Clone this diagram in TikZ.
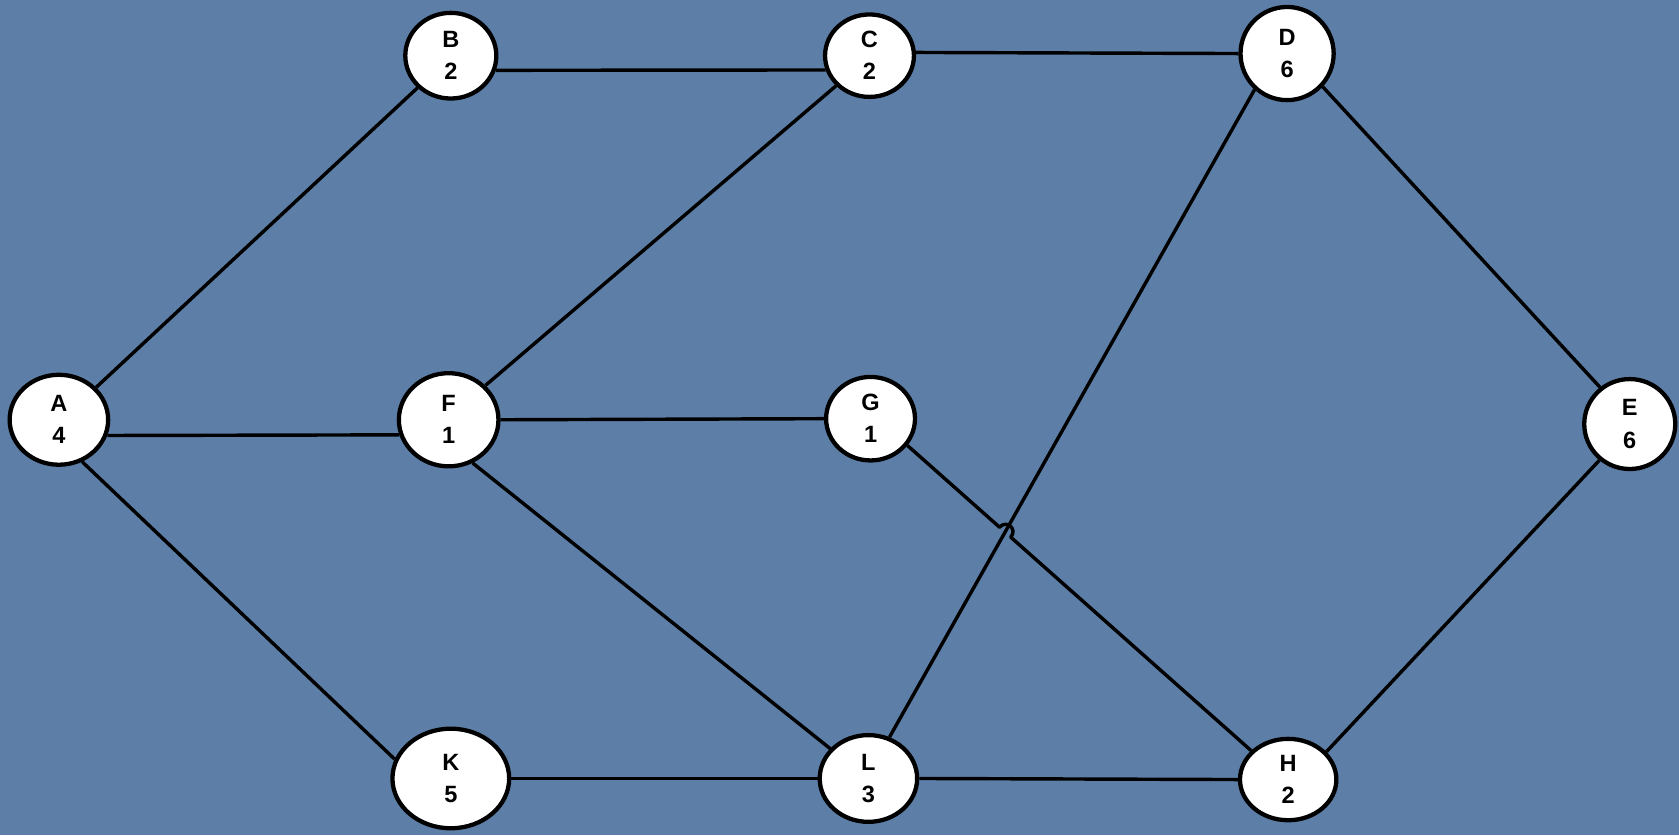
\documentclass[tikz,border=0pt]{standalone}
\usepackage{fontspec}
\setmainfont{Liberation Sans}
\usetikzlibrary{shapes.geometric,calc}
\definecolor{bgblue}{RGB}{93,127,167}
\tikzset{
  vtx/.style={ellipse, draw=black, line width=4pt, fill=white, inner sep=0pt,
    align=center, font=\fontsize{22}{30}\selectfont\bfseries},
  edge/.style={draw=black, line width=3.2pt}
}
\begin{document}
\begin{tikzpicture}[x=1pt,y=-1pt]
\fill[bgblue] (0,0) rectangle (1568,780);
\useasboundingbox (0,0) rectangle (1568,780);
\node[vtx, minimum width=92pt, minimum height=84pt] (A) at (55,392) {A\\4};
\node[vtx, minimum width=85pt, minimum height=80pt] (B) at (421,52) {B\\2};
\node[vtx, minimum width=83pt, minimum height=77pt] (C) at (812,52) {C\\2};
\node[vtx, minimum width=87pt, minimum height=87pt] (D) at (1202,50) {D\\6};
\node[vtx, minimum width=85pt, minimum height=84pt] (E) at (1522,396) {E\\6};
\node[vtx, minimum width=93pt, minimum height=87pt] (F) at (419,392) {F\\1};
\node[vtx, minimum width=83pt, minimum height=78pt] (G) at (813,391) {G\\1};
\node[vtx, minimum width=109pt, minimum height=93pt] (K) at (421,727) {K\\5};
\node[vtx, minimum width=91pt, minimum height=81pt] (L) at (811,727) {L\\3};
\node[vtx, minimum width=90pt, minimum height=76pt] (H) at (1203,728) {H\\2};
\draw[edge] (A.41) -- (B.224);
\draw[edge] (B.-18) -- (C.198);
\draw[edge] (C.4) -- (D.180);
\draw[edge] (A.-18) -- (F.197);
\draw[edge] (A.-61) -- (K.161);
\draw[edge] (F.43) -- (C.222);
\draw[edge] (F.0) -- (G.180);
\draw[edge] (F.-61) -- (L.142);
\draw[edge] (K.0) -- (L.180);
\draw[edge] (L.0) -- (H.180);
\draw[edge] (L.63) -- (D.228);
\coordinate (X) at (intersection of G.-36--H.142 and L.63--D.228);
\coordinate (X1) at ($(X)!7pt!(G.-36)$);
\coordinate (X2) at ($(X)!7pt!(H.142)$);
\draw[edge, line join=round] (G.-36) -- (X1)
  .. controls ($(X1)+(6.6,-7.5)$) and ($(X2)+(6.6,-7.5)$) .. (X2) -- (H.142);
\draw[edge] (D.-43) -- (E.129);
\draw[edge] (H.36) -- (E.230);
\end{tikzpicture}
\end{document}
